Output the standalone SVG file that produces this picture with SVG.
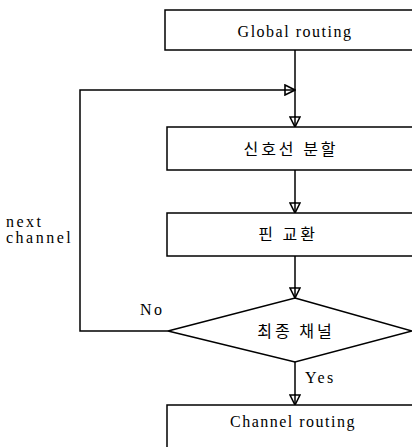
<svg xmlns="http://www.w3.org/2000/svg" width="412" height="447" viewBox="0 0 412 447">
<style>
.box{fill:#fff;stroke:#000;stroke-width:1.5}
.ln{fill:none;stroke:#000;stroke-width:1.5}
.t{font-family:"Liberation Serif","Times New Roman",serif;font-size:16px;letter-spacing:1.5px;fill:#000;text-anchor:middle}
.k{font-family:"Noto Sans CJK KR","Noto Sans",sans-serif;font-size:16px;letter-spacing:3px;fill:#000;text-anchor:middle}
.l{font-family:"Liberation Serif","Times New Roman",serif;font-size:16px;letter-spacing:2.5px;fill:#000}
</style>
<defs>
<marker id="ah" viewBox="0 0 12 12" refX="11" refY="6" markerWidth="12" markerHeight="12" markerUnits="userSpaceOnUse" orient="auto">
<path d="M1,1 L11,6 L1,11 Z" fill="#fff" stroke="#000" stroke-width="1.6"/>
<path d="M0,6 L11,6" stroke="#000" stroke-width="1.5"/>
</marker>
</defs>
<g id="connectors">
<path class="ln" d="M295,50 V127" marker-end="url(#ah)"/>
<path class="ln" d="M168,331 H80 V90 H295" marker-end="url(#ah)"/>
<path class="ln" d="M295,170 V213" marker-end="url(#ah)"/>
<path class="ln" d="M295,256 V298" marker-end="url(#ah)"/>
<path class="ln" d="M295,362 V405" marker-end="url(#ah)"/>
<text class="l" x="140" y="315">No</text>
<text class="l" x="305" y="383">Yes</text>
<text class="l" x="6" y="227">next</text>
<text class="l" x="6" y="243">channel</text>
</g>
<g id="global">
<rect class="box" x="165" y="10" width="260" height="40"/>
<text class="t" x="295" y="37">Global routing</text>
</g>
<g id="split">
<rect class="box" x="167" y="127" width="260" height="43"/>
<text class="k" x="291" y="155">신호선 분할</text>
</g>
<g id="swap">
<rect class="box" x="167" y="213" width="260" height="43"/>
<text class="k" x="288" y="240">핀 교환</text>
</g>
<g id="decision">
<polygon class="box" points="295,298 412,331 295,362 168,331"/>
<text class="k" x="296" y="337">최종 채널</text>
</g>
<g id="channel">
<rect class="box" x="167" y="405" width="260" height="60"/>
<text class="t" x="293" y="427">Channel routing</text>
</g>
</svg>
